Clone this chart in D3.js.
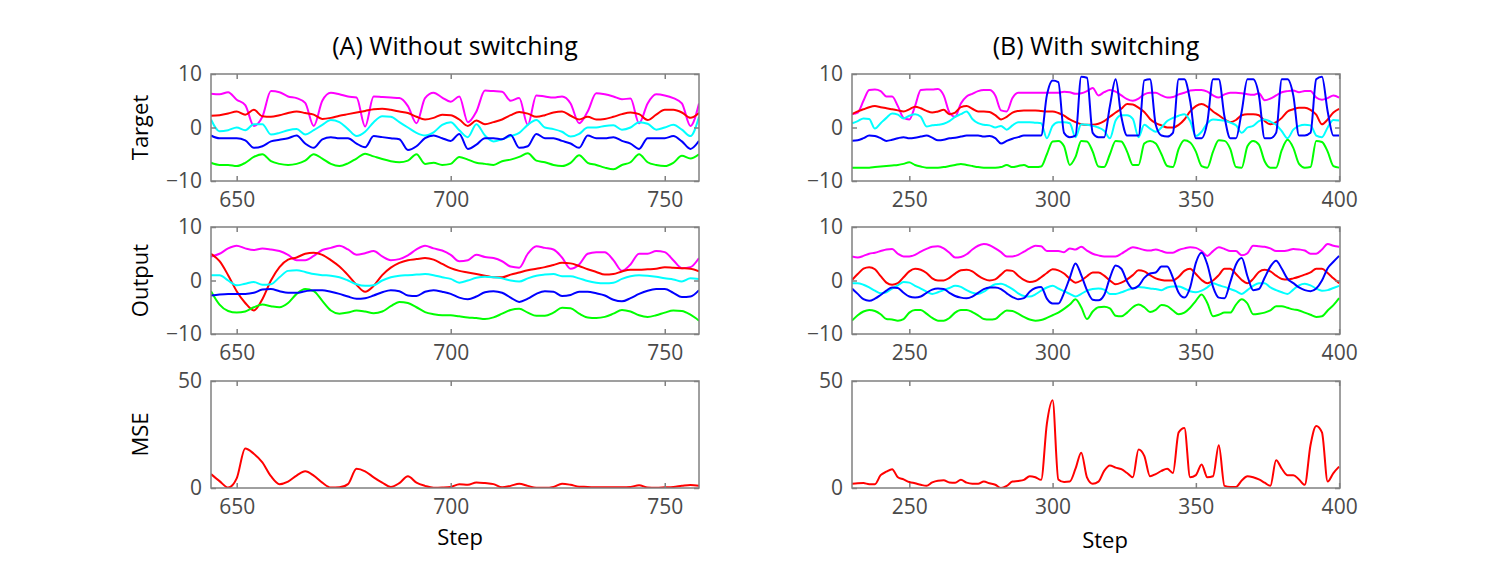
<!DOCTYPE html>
<html lang="en">
<head>
<meta charset="UTF-8">
<title>Target / Output / MSE, without and with switching</title>
<script src="https://d3js.org/d3.v7.min.js"></script>
<style>
  body { margin: 0; background: #fff; }
  svg { display: block; font-family: "Open Sans", "Noto Sans", sans-serif; }
  .tick text { fill: #4a4a4a; font-size: 21px; font-family: "Open Sans", "Noto Sans", sans-serif; }
  .tick line { stroke: #808080; stroke-width: 1.5; }
</style>
</head>
<body>
<svg width="1499" height="584"></svg>
<script>
// sample grid (every 2 steps) for each column
const stepsA = d3.range(644, 759, 2);
const stepsB = d3.range(230, 401, 2);

// ---- (A) Without switching ----
const targetMagentaA = [6.3, 6.2, 6.6, 5.2, 4.2, 0.3, 2.0, 6.8, 6.6, 5.8, 5.5, 4.6, 0.3, 5.0, 6.5, 6.2, 5.8, 5.6, 0.2, 5.8,
  5.7, 5.6, 5.5, 4.0, 0.8, 5.5, 6.5, 5.6, 4.8, 5.8, 1.0, 3.0, 6.9, 6.8, 6.7, 5.0, 5.5, 0.5, 6.0, 5.8,
  5.6, 5.8, 4.5, 0.8, 3.0, 6.4, 6.2, 5.8, 5.3, 5.4, 0.8, 4.5, 6.2, 6.0, 5.5, 4.5, 0.3, 4.5];
const targetRedA = [2.2, 2.3, 2.6, 3.0, 2.4, 3.3, 2.1, 2.0, 2.3, 2.7, 3.0, 2.7, 2.4, 1.6, 1.8, 2.2, 2.5, 2.8, 3.1, 3.4,
  3.5, 3.3, 3.0, 2.7, 2.0, 1.5, 1.8, 2.4, 2.3, 1.5, 0.3, 1.3, 0.6, 1.0, 1.5, 2.3, 2.9, 2.6, 2.0, 2.3,
  2.8, 3.0, 2.2, 1.5, 2.0, 1.5, 1.6, 2.0, 2.5, 2.8, 2.5, 1.4, 2.4, 3.3, 3.3, 2.8, 1.8, 2.7];
const targetCyanA = [1.5, -0.7, -0.5, 0.0, -0.5, 0.6, 0.6, -1.3, -1.0, -0.5, -0.3, -1.3, -0.5, 0.5, 1.4, 1.0, -0.3, -1.6, -0.8, 1.0,
  2.1, 2.0, 1.0, 0.0, -1.0, -1.5, -0.9, 0.5, 1.0, -0.5, -1.8, 0.6, -1.5, -2.6, -2.2, -1.6, -1.0, 0.5, 1.4, 0.0,
  -0.3, -0.8, -1.7, -1.2, 0.0, 0.0, 0.3, 0.4, -0.4, 0.0, 1.0, 0.7, -0.4, 0.0, 0.5, -0.4, -1.6, 2.0];
const targetBlueA = [-1.5, -2.0, -2.0, -2.0, -2.4, -3.8, -3.5, -2.6, -2.3, -2.0, -1.5, -3.0, -3.8, -2.2, -1.8, -2.0, -2.0, -3.0, -3.7, -1.6,
  -1.8, -2.0, -2.2, -4.2, -3.5, -2.0, -1.5, -2.0, -2.5, -1.2, -4.0, -3.2, -2.0, -2.0, -2.2, -1.4, -3.8, -3.5, -1.2, -2.0,
  -2.0, -2.5, -3.0, -3.8, -1.5, -2.0, -2.0, -1.8, -2.5, -3.0, -4.0, -2.0, -2.0, -2.0, -1.6, -2.6, -4.0, -2.5];
const targetGreenA = [-6.6, -7.0, -7.0, -7.2, -6.6, -5.5, -5.0, -6.3, -6.8, -7.0, -6.8, -6.2, -5.0, -5.8, -6.8, -7.2, -6.7, -5.8, -4.9, -5.4,
  -5.9, -6.3, -6.5, -6.2, -5.0, -6.8, -6.6, -7.0, -6.8, -5.5, -6.0, -6.6, -6.8, -7.0, -6.3, -6.0, -5.5, -4.8, -6.2, -6.5,
  -7.0, -7.2, -6.6, -5.2, -6.6, -7.0, -7.5, -7.8, -7.0, -6.5, -5.0, -6.5, -7.0, -7.2, -6.6, -5.3, -5.8, -5.0];

const outputMagentaA = [4.5, 5.0, 6.0, 6.5, 6.0, 5.7, 6.0, 5.8, 5.5, 4.8, 3.8, 3.8, 4.6, 5.7, 6.1, 6.5, 5.8, 4.8, 5.1, 5.5,
  4.5, 3.8, 4.0, 4.7, 5.8, 6.5, 6.0, 5.6, 4.8, 3.6, 3.8, 4.8, 4.4, 4.2, 3.6, 2.6, 2.4, 5.0, 6.4, 6.1,
  5.8, 4.3, 2.2, 3.0, 5.0, 5.3, 5.3, 3.8, 1.8, 3.0, 5.0, 5.0, 5.5, 5.3, 3.8, 2.3, 2.5, 4.2];
const outputRedA = [5.0, 3.6, 1.0, -2.0, -4.2, -5.6, -3.5, 0.0, 2.5, 3.9, 4.3, 5.0, 5.2, 4.8, 3.8, 2.6, 1.0, -0.8, -2.1, -1.0,
  1.0, 2.4, 3.3, 3.8, 4.0, 4.2, 3.9, 3.1, 2.3, 1.8, 1.5, 1.2, 0.9, 0.6, 0.6, 1.1, 1.5, 1.9, 2.2, 2.5,
  2.9, 3.3, 3.2, 2.7, 2.1, 1.6, 1.1, 1.2, 1.7, 2.0, 2.0, 2.1, 2.2, 2.5, 2.4, 2.3, 2.2, 1.7];
const outputCyanA = [1.0, 1.0, 0.0, -0.9, -0.6, -0.3, -0.8, -0.7, 0.6, 1.8, 1.9, 1.6, 1.2, 1.0, 0.9, 0.6, 0.0, -0.7, -1.0, -0.9,
  0.0, 0.6, 0.9, 1.0, 1.1, 1.2, 1.0, 0.6, 0.3, -0.4, 0.0, 0.5, 0.7, 0.6, 0.4, 0.0, -0.2, 0.4, 0.9, 1.1,
  1.2, 0.8, 0.8, 0.4, -0.1, -0.4, -0.5, -0.4, 0.3, 0.8, 1.0, 0.9, 0.7, 0.4, 0.2, -0.2, 0.4, 0.3];
const outputBlueA = [-2.8, -2.6, -2.5, -2.5, -2.5, -2.3, -1.7, -1.6, -2.0, -2.3, -2.3, -2.0, -1.8, -1.8, -2.1, -2.5, -3.0, -3.4, -3.3, -2.8,
  -2.2, -1.8, -2.0, -2.8, -2.9, -2.1, -1.8, -2.1, -2.5, -3.2, -3.5, -3.0, -2.2, -2.0, -2.3, -3.2, -4.0, -3.4, -2.5, -2.0,
  -2.1, -2.9, -2.7, -2.1, -2.1, -2.4, -2.8, -3.6, -3.9, -3.3, -2.5, -1.9, -1.6, -1.6, -2.3, -3.1, -3.0, -1.8];
const outputGreenA = [-2.0, -4.5, -5.7, -6.0, -5.8, -5.0, -4.5, -4.8, -5.0, -4.2, -2.5, -1.6, -2.0, -3.8, -5.6, -6.2, -6.0, -5.6, -5.8, -6.1,
  -5.8, -4.8, -4.0, -4.2, -5.0, -5.9, -6.3, -6.5, -6.5, -6.7, -6.9, -7.0, -7.2, -6.9, -6.2, -5.5, -5.3, -6.0, -6.6, -6.6,
  -6.0, -5.1, -5.2, -6.2, -6.9, -7.0, -6.8, -6.2, -5.5, -5.8, -6.5, -6.8, -6.5, -6.0, -5.6, -5.7, -6.4, -7.5];

const mseA = [6.5, 3.2, 0.2, 4.5, 18.5, 16.0, 12.0, 5.5, 1.8, 3.0, 5.8, 7.8, 5.8, 2.5, 0.2, 0.3, 1.8, 9.0, 7.8, 5.0,
  2.5, 0.5, 2.3, 5.5, 2.5, 1.0, 0.1, 0.2, 0.5, 1.8, 1.5, 2.6, 2.3, 1.8, 0.3, 1.0, 2.0, 1.0, 0.1, 0.1,
  0.5, 2.0, 1.5, 0.6, 0.5, 0.3, 0.4, 0.4, 0.3, 0.5, 1.3, 0.2, 0.1, 0.3, 0.5, 1.0, 1.4, 1.0];

// ---- (B) With switching ----
const targetMagentaB = [2.5, 2.8, 5.0, 7.0, 7.1, 6.8, 5.8, 5.8, 4.0, 1.8, 1.5, 4.0, 7.0, 7.1, 7.1, 7.2, 6.0, 2.8, 2.0, 4.5,
  5.8, 6.3, 6.8, 7.0, 7.0, 6.0, 3.2, 3.0, 5.5, 6.5, 6.5, 6.5, 6.5, 6.5, 6.5,
  6.5, 6.5, 6.7, 6.6, 6.3, 6.4, 6.8, 7.4, 6.0, 6.6, 7.0, 6.7, 6.0, 5.3, 5.0, 5.4, 6.2, 6.5, 6.5, 6.0,
  5.6, 5.7, 6.2, 6.5, 6.9, 7.0, 7.0, 6.7, 6.0, 5.6, 6.2, 6.5, 6.5, 6.4, 6.2, 6.1, 6.4, 5.1, 5.4, 6.0,
  6.6, 6.8, 6.9, 6.6, 6.8, 6.8, 5.6, 5.2, 5.5, 6.0, 5.6];
const targetRedB = [2.5, 3.0, 3.4, 3.8, 4.0, 3.8, 3.6, 3.4, 3.2, 3.0, 3.4, 3.9, 3.6, 3.1, 2.8, 3.0, 3.3, 2.5, 2.8, 3.8,
  4.0, 3.5, 3.0, 3.0, 2.9, 2.3, 1.5, 2.0, 2.8, 3.1, 3.2, 3.2, 3.2, 3.1, 3.0,
  3.0, 2.7, 2.2, 1.5, 1.0, 0.6, 0.5, 0.5, 0.7, 1.2, 2.0, 2.8, 3.5, 4.4, 4.3, 3.7, 2.9, 1.6, 0.8, 0.4,
  0.0, 0.0, 0.5, 1.5, 3.0, 4.0, 4.4, 3.9, 3.0, 2.3, 1.5, 1.0, 1.4, 2.3, 2.5, 2.5, 2.3, 1.2, 0.6, 1.0,
  1.8, 3.0, 3.4, 3.7, 3.7, 3.3, 2.4, 0.6, 1.5, 2.8, 3.5];
const targetCyanB = [0.8, 1.2, 1.7, 1.6, -0.2, 0.8, 1.8, 2.6, 2.4, 1.7, 2.2, 2.5, 2.0, 0.2, 0.4, 0.5, 0.7, 1.2, 2.0, 2.5,
  3.0, 1.6, 0.8, 0.5, 0.4, 0.0, 0.3, -0.4, 0.4, 1.0, 1.0, 1.0, 0.9,
  0.8, -2.0, 0.3, 1.0, 1.0, 0.8, -1.8, 0.6, 0.5, 0.3, 0.0, -0.6, -2.0, 1.3, 2.3, 2.3, 1.6, -1.8, 0.5, -0.2,
  -0.8, 0.0, 1.2, 1.8, 2.2, 2.5, 1.2, -1.6, -0.8, 0.8, 1.5, 1.4, 1.3, 0.9, 0.4, -1.0, 0.0, 0.3, 1.2, 1.5,
  1.1, 0.5, -0.7, -2.0, -0.4, 0.3, 0.5, 0.4, -1.5, -1.8, 0.0, 1.4, 1.3];
const targetBlueB = [-2.5, -2.4, -2.0, -1.5, -1.6, -2.0, -2.5, -2.3, -2.0, -1.8, -2.0, -1.9, -1.7, -1.5, -1.9, -2.4, -2.3, -2.0, -1.9, -1.7,
  -1.5, -1.5, -1.5, -1.7, -1.6, -2.0, -3.0, -2.5, -2.1, -1.8, -1.5, -1.5, -1.5,
  -1.5, 6.0, 8.8, 8.5, -1.0, -1.8, -1.5, 9.5, 9.3, -1.0, -1.8, -1.8, 4.0, 9.0, 2.0, -1.5, -1.5, -1.5, 8.8, 9.0,
  0.5, -1.5, -1.7, -1.0, 9.0, 9.0, 5.0, -2.0, -2.0, 1.0, 9.0, 9.0, 2.0, -2.0, -2.0, 3.0, 9.0, 9.0, 6.0, -2.0,
  -2.0, -1.0, 9.0, 9.0, 6.0, -1.5, -1.5, -1.0, 9.0, 9.5, 3.0, -1.5, -1.5];
const targetGreenB = [-7.5, -7.5, -7.5, -7.5, -7.4, -7.3, -7.2, -7.1, -7.0, -6.8, -6.5, -7.0, -7.3, -7.5, -7.5, -7.5, -7.4, -7.2, -7.0, -6.8,
  -7.0, -7.2, -7.4, -7.5, -7.5, -7.5, -7.4, -7.0, -7.4, -7.2, -7.0, -7.4, -7.4,
  -7.3, -5.0, -2.6, -2.5, -3.5, -7.0, -5.5, -2.5, -2.6, -4.5, -7.3, -7.4, -5.0, -2.5, -2.6, -4.5, -7.0, -7.0, -3.0, -2.5,
  -3.0, -5.0, -7.2, -7.4, -4.0, -2.4, -2.8, -4.5, -7.2, -7.5, -4.5, -2.4, -2.5, -4.0, -7.4, -7.5, -3.5, -2.5, -3.2, -6.3,
  -7.5, -7.5, -4.2, -2.3, -3.8, -6.8, -7.5, -7.4, -2.5, -2.7, -4.5, -7.2, -7.5];

const outputMagentaB = [4.5, 4.3, 4.6, 5.0, 5.2, 5.5, 5.8, 5.9, 5.0, 4.5, 4.5, 4.8, 5.4, 5.9, 6.3, 6.4, 6.0, 5.2, 4.3, 4.4,
  4.9, 5.8, 6.5, 6.8, 6.6, 6.0, 5.3, 4.5, 4.5, 4.8, 5.4, 6.0, 6.5, 6.4, 5.5, 5.5, 5.5, 5.3, 6.0, 5.8,
  6.3, 5.6, 5.0, 4.7, 4.5, 4.5, 4.5, 5.0, 5.7, 6.2, 6.0, 5.7, 5.6, 5.8, 5.5, 5.2, 5.2, 5.7, 6.0, 6.2,
  6.1, 5.5, 4.6, 5.5, 6.2, 5.9, 5.5, 5.5, 4.7, 5.1, 6.5, 6.4, 6.3, 6.0, 5.5, 5.5, 5.6, 5.9, 5.8, 5.6,
  5.0, 5.0, 5.8, 6.8, 6.5, 6.3];
const outputRedB = [0.1, 1.2, 2.2, 2.5, 2.1, 0.8, -0.4, -0.8, -0.5, 0.6, 1.7, 2.2, 2.0, 1.4, 0.4, 0.0, 0.0, 0.5, 1.3, 1.9,
  2.0, 1.7, 0.9, 0.3, 0.0, 0.2, 1.1, 1.9, 1.8, 0.9, 0.1, -0.3, -0.1, 0.6, 1.4, 2.1, 1.9, 1.3, 0.3, -0.4,
  0.0, 0.8, 1.5, 1.5, 0.9, 0.0, -0.7, -0.4, 0.2, 1.0, 1.9, 1.7, 1.0, 0.4, 0.1, 0.0, 0.0, 0.7, 1.8, 2.2,
  1.2, 0.1, -0.5, 0.0, 1.0, 2.2, 2.2, 1.2, 0.1, -0.5, 0.3, 1.6, 2.0, 1.7, 0.9, 0.3, 0.2, 0.4, 0.7, 1.1,
  1.5, 2.2, 2.2, 1.4, 0.4, -0.5];
const outputCyanB = [-0.5, -0.5, -0.8, -1.3, -1.9, -2.4, -2.2, -1.5, -0.9, -0.3, -0.4, -1.0, -1.5, -2.1, -2.5, -2.2, -1.8, -1.4, -1.0, -1.2,
  -1.8, -2.3, -2.5, -2.1, -1.3, -0.7, -0.6, -1.0, -1.6, -2.4, -2.9, -3.0, -2.6, -1.9, -1.3, -1.0, -1.5, -2.0, -2.5, -3.0,
  -2.5, -1.9, -1.6, -1.5, -1.7, -2.5, -2.5, -2.2, -1.8, -1.5, -1.2, -1.3, -1.5, -1.6, -1.8, -1.3, -1.1, -1.1, -1.5, -2.0,
  -2.2, -1.9, -1.3, -0.5, -0.9, -1.2, -1.6, -2.0, -2.5, -1.8, -1.0, -0.5, -0.5, -1.3, -1.8, -2.2, -2.5, -1.7, -0.9, -0.6,
  -0.9, -1.5, -1.9, -1.8, -1.4, -1.0];
const outputBlueB = [-1.5, -2.5, -3.5, -3.8, -3.4, -2.7, -1.9, -1.3, -1.4, -2.3, -3.0, -3.2, -3.0, -2.3, -1.7, -1.5, -1.6, -2.3, -2.9, -3.2,
  -3.3, -3.0, -2.3, -1.6, -1.3, -1.3, -1.6, -2.4, -3.1, -3.5, -3.3, -2.1, -1.4, -1.2, -3.4, -4.3, -4.3, -2.3, 0.5, 3.2,
  1.0, -1.8, -3.6, -3.7, -2.7, 0.5, 2.8, 2.2, -0.2, -1.5, -1.0, 0.5, 1.3, 1.5, 2.6, 2.6, 0.5, -2.3, -3.2, -1.3,
  3.3, 5.2, 3.0, -1.2, -3.2, -3.3, -0.3, 3.0, 4.2, 0.8, -1.8, -1.6, 0.5, 2.6, 3.7, 2.2, 0.3, -0.5, -1.3, -1.8,
  -2.0, -1.5, 0.0, 2.3, 3.5, 4.6];
const outputGreenB = [-7.5, -6.5, -5.8, -5.5, -5.7, -6.3, -7.2, -7.3, -7.5, -7.2, -6.0, -5.5, -5.5, -6.2, -7.0, -7.5, -7.5, -7.0, -6.0, -5.5,
  -5.5, -5.9, -6.5, -7.2, -7.3, -7.2, -6.3, -5.6, -5.7, -6.2, -6.8, -7.3, -7.5, -7.4, -7.0, -6.5, -6.0, -5.3, -4.5, -3.5,
  -5.0, -7.2, -5.8, -5.0, -4.9, -5.2, -6.6, -6.7, -6.0, -5.0, -4.5, -5.0, -5.9, -5.5, -4.6, -4.8, -5.6, -6.3, -6.0, -5.1,
  -3.8, -2.6, -4.2, -6.7, -6.4, -6.0, -6.0, -4.5, -3.5, -4.3, -6.3, -6.2, -6.0, -5.6, -4.8, -4.8, -5.1, -5.4, -5.6, -6.0,
  -6.4, -6.8, -6.7, -5.6, -4.6, -3.3];

const mseB = [2.0, 2.2, 2.3, 1.8, 1.8, 6.0, 7.6, 8.8, 5.0, 4.0, 2.8, 2.2, 1.5, 1.0, 2.6, 3.4, 3.6, 2.6, 2.5, 3.8,
  2.5, 2.0, 2.0, 3.0, 2.2, 1.5, 0.0, 1.0, 3.0, 3.3, 3.8, 5.5, 5.0, 3.8, 30.0, 41.0, 4.0, 2.8, 3.0, 9.0,
  16.5, 5.0, 2.0, 3.0, 8.0, 10.5, 9.5, 8.8, 7.0, 5.0, 18.0, 15.0, 5.5, 6.5, 8.0, 9.0, 7.0, 26.0, 28.0, 5.0,
  6.0, 11.0, 5.0, 5.5, 20.0, 1.0, 0.5, 0.5, 3.5, 5.5, 5.0, 4.0, 2.5, 1.0, 13.0, 9.0, 6.0, 6.0, 4.0, 1.5,
  20.0, 29.0, 26.0, 3.0, 7.0, 10.0];

const colors = { magenta: "#ff00ff", red: "#ff0000", cyan: "#00ffff", green: "#00ff00", blue: "#0000ff" };
const seriesColors = [colors.magenta, colors.red, colors.cyan, colors.green, colors.blue];

const columns = [
  {
    title: "(A) Without switching", steps: stepsA, domain: [644, 758], ticks: [650, 700, 750],
    left: 211, stepPos: [460, 537],
    rows: [
      [targetMagentaA, targetRedA, targetCyanA, targetGreenA, targetBlueA],
      [outputMagentaA, outputRedA, outputCyanA, outputGreenA, outputBlueA],
      [mseA]
    ]
  },
  {
    title: "(B) With switching", steps: stepsB, domain: [230, 400.3], ticks: [250, 300, 350, 400],
    left: 852, stepPos: [1105, 540],
    rows: [
      [targetMagentaB, targetRedB, targetCyanB, targetGreenB, targetBlueB],
      [outputMagentaB, outputRedB, outputCyanB, outputGreenB, outputBlueB],
      [mseB]
    ]
  }
];

const rowDefs = [
  { top: 74, label: "Target", domain: [-10, 10], ticks: [-10, 0, 10] },
  { top: 227, label: "Output", domain: [-10, 10], ticks: [-10, 0, 10] },
  { top: 381, label: "MSE", domain: [0, 50], ticks: [0, 50] }
];

const panelW = 488, panelH = 107;
const svg = d3.select("svg");
svg.append("rect").attr("width", 1499).attr("height", 584).attr("fill", "#fff");

columns.forEach((col, ci) => {
  const x = d3.scaleLinear().domain(col.domain).range([0, panelW]);

  svg.append("text")
    .attr("x", col.left + panelW / 2).attr("y", 55)
    .attr("text-anchor", "middle")
    .attr("font-size", 25)
    .text(col.title);

  rowDefs.forEach((row, ri) => {
    const y = d3.scaleLinear().domain(row.domain).range([panelH, 0]);
    const g = svg.append("g").attr("transform", `translate(${col.left},${row.top})`);

    const clipId = `clip-${ci}-${ri}`;
    g.append("clipPath").attr("id", clipId)
      .append("rect").attr("width", panelW).attr("height", panelH);

    const line = d3.line()
      .curve(d3.curveMonotoneX)
      .x(d => x(d[0]))
      .y(d => y(d[1]));

    const lines = g.append("g").attr("clip-path", `url(#${clipId})`);
    col.rows[ri].forEach((values, si) => {
      const color = ri === 2 ? colors.red : seriesColors[si];
      lines.append("path")
        .datum(d3.zip(col.steps, values))
        .attr("d", line)
        .attr("fill", "none")
        .attr("stroke", color)
        .attr("stroke-width", 2)
        .attr("stroke-linejoin", "round");
    });

    // inward ticks on all four sides, labels on left and bottom
    g.append("g").attr("transform", `translate(0,${panelH})`)
      .call(d3.axisBottom(x).tickValues(col.ticks).tickSize(-5).tickPadding(11))
      .call(a => a.select(".domain").remove());
    g.append("g")
      .call(d3.axisTop(x).tickValues(col.ticks).tickSize(-5).tickFormat(""))
      .call(a => a.select(".domain").remove());
    g.append("g")
      .call(d3.axisLeft(y).tickValues(row.ticks).tickSize(-5).tickPadding(9))
      .call(a => a.select(".domain").remove());
    g.append("g").attr("transform", `translate(${panelW},0)`)
      .call(d3.axisRight(y).tickValues(row.ticks).tickSize(-5).tickFormat(""))
      .call(a => a.select(".domain").remove());

    g.append("rect")
      .attr("width", panelW).attr("height", panelH)
      .attr("fill", "none")
      .attr("stroke", "#808080")
      .attr("stroke-width", 1.5);

    if (ci === 0) {
      svg.append("text")
        .attr("transform", `translate(140,${row.top + panelH / 2}) rotate(-90)`)
        .attr("text-anchor", "middle")
        .attr("dy", "0.35em")
        .attr("font-size", 22)
        .text(row.label);
    }
  });

  svg.append("text")
    .attr("x", col.stepPos[0]).attr("y", col.stepPos[1])
    .attr("text-anchor", "middle")
    .attr("dy", "0.35em")
    .attr("font-size", 22)
    .text("Step");
});
</script>
</body>
</html>
